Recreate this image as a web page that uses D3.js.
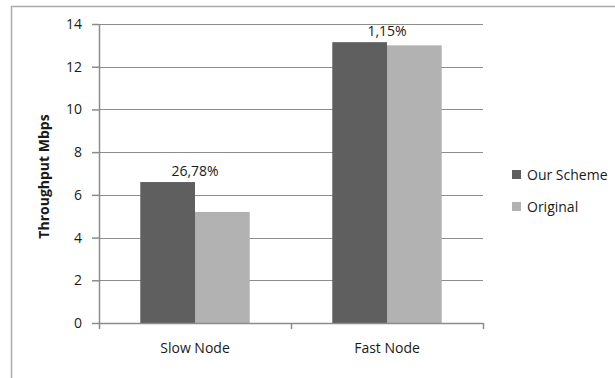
<!DOCTYPE html>
<html>
<head>
<meta charset="utf-8">
<script src="https://cdn.jsdelivr.net/npm/d3@7"></script>
<style>
  html, body { margin: 0; padding: 0; background: #fff; }
  svg { display: block; }
  text { font-family: "Open Sans", "Liberation Sans", sans-serif; fill: #1a1a1a; }
</style>
</head>
<body>
<svg id="chart" width="615" height="378"></svg>
<script>
// Throughput per node type
const categories = ["Slow Node", "Fast Node"];
const seriesNames = ["Our Scheme", "Original"];
const ourScheme = [6.6, 13.15];
const original = [5.2, 13.0];
const gainLabels = ["26,78%", "1,15%"];
const yTicks = [0, 2, 4, 6, 8, 10, 12, 14];
const colors = ["#5f5f5f", "#b2b2b2"];

const FONT = "'Open Sans', 'Liberation Sans', sans-serif";
const svg = d3.select("#chart");
const margin = { left: 99, right: 132, top: 24, bottom: 55 };
const W = 615, H = 378;
const plotW = W - margin.left - margin.right;
const plotH = H - margin.top - margin.bottom;

// outer chart frame
svg.append("rect")
  .attr("x", 11.5).attr("y", 6.5)
  .attr("width", 640).attr("height", 400)
  .attr("fill", "none").attr("stroke", "#aaa").attr("stroke-width", 1.5);

const g = svg.append("g").attr("transform", `translate(${margin.left},${margin.top})`);

const x = d3.scaleBand().domain(categories).range([0, plotW]);
const xs = d3.scaleBand().domain(seriesNames).range([0, x.bandwidth() * 0.57])
  .paddingInner(0);
const y = d3.scaleLinear().domain([0, 14]).range([plotH, 0]);

// gridlines
g.append("g").selectAll("line").data(yTicks.filter(d => d > 0)).join("line")
  .attr("x1", 0).attr("x2", plotW)
  .attr("y1", d => Math.round(y(d)) + 0.5).attr("y2", d => Math.round(y(d)) + 0.5)
  .attr("stroke", "#8c8c8c").attr("stroke-width", 1);

// bars
const groupOffset = (x.bandwidth() - xs.range()[1]) / 2;
const rows = categories.map((c, i) => ({ c, vals: [ourScheme[i], original[i]] }));
const groups = g.append("g").selectAll("g").data(rows).join("g")
  .attr("transform", d => `translate(${x(d.c) + groupOffset},0)`);
groups.selectAll("rect").data(d => d.vals.map((v, k) => ({ v, k }))).join("rect")
  .attr("x", d => xs(seriesNames[d.k]))
  .attr("width", xs.bandwidth())
  .attr("y", d => y(d.v))
  .attr("height", d => plotH - y(d.v))
  .attr("fill", d => colors[d.k]);

// gain labels over each group
g.append("g").selectAll("text").data(categories).join("text")
  .attr("x", d => x(d) + x.bandwidth() / 2)
  .attr("y", (d, i) => y(Math.max(ourScheme[i], original[i])) - 6)
  .attr("text-anchor", "middle")
  .attr("font-size", 14)
  .text((d, i) => gainLabels[i]);

// y axis
const yAxis = g.append("g")
  .call(d3.axisLeft(y).tickValues(yTicks).tickSize(7).tickPadding(10));
yAxis.select(".domain").attr("stroke", "#8c8c8c").attr("stroke-width", 1.5)
  .attr("d", `M0.5,${plotH}V0`);
yAxis.selectAll(".tick line").attr("stroke", "#8c8c8c").attr("stroke-width", 1.5);
yAxis.selectAll(".tick text").attr("font-size", 14).attr("fill", "#1a1a1a")
  .attr("font-family", FONT);

// x axis
const xAxis = g.append("g").attr("transform", `translate(0,${plotH})`)
  .call(d3.axisBottom(x).tickSize(0).tickPadding(20));
xAxis.select(".domain").attr("stroke", "#8c8c8c").attr("stroke-width", 1.5)
  .attr("d", `M0,0.5H${plotW}`);
xAxis.selectAll(".tick text").attr("font-size", 14).attr("fill", "#1a1a1a")
  .attr("font-family", FONT);
// category boundary ticks
g.append("g").selectAll("line").data([0, plotW / 2, plotW]).join("line")
  .attr("x1", d => d + 0.5).attr("x2", d => d + 0.5)
  .attr("y1", plotH).attr("y2", plotH + 6)
  .attr("stroke", "#8c8c8c").attr("stroke-width", 1.5);

// y axis title
svg.append("text")
  .attr("transform", `translate(49,${margin.top + plotH / 2 + 3}) rotate(-90)`)
  .attr("text-anchor", "middle")
  .attr("font-size", 14).attr("font-weight", "bold")
  .text("Throughput Mbps");

// legend
const legend = svg.append("g").attr("transform", "translate(512,175)");
seriesNames.forEach((name, i) => {
  const row = legend.append("g").attr("transform", `translate(0,${i * 32})`);
  row.append("rect").attr("x", 0).attr("y", -5).attr("width", 9).attr("height", 9)
    .attr("fill", colors[i]);
  row.append("text").attr("x", 15).attr("y", 0).attr("dy", "0.35em")
    .attr("font-size", 14).text(name);
});
</script>
</body>
</html>
